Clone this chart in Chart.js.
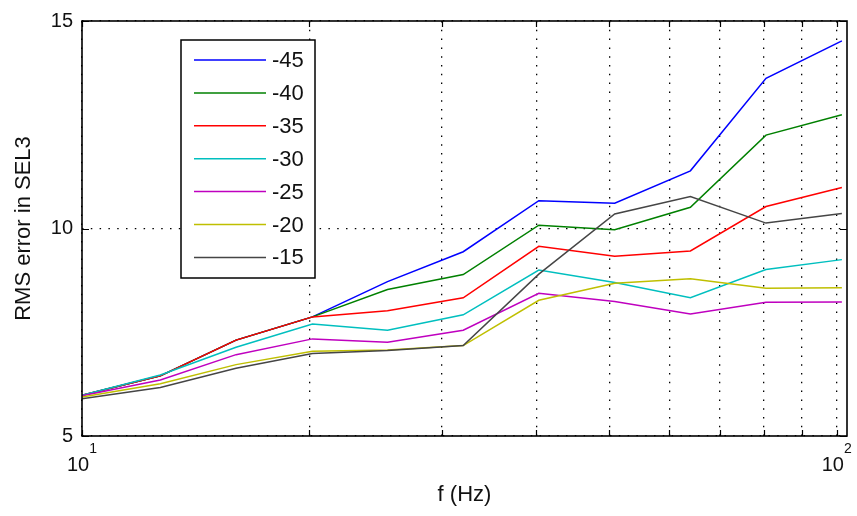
<!DOCTYPE html>
<html>
<head>
<meta charset="utf-8">
<script src="https://cdn.jsdelivr.net/npm/chart.js@4/dist/chart.umd.min.js"></script>
<style>
  html, body { margin: 0; padding: 0; background: #ffffff; }
  #wrap { width: 857px; height: 516px; }
</style>
</head>
<body>
<div id="wrap"><canvas id="c" width="857" height="516"></canvas></div>
<script>
// One-third-octave band centre frequencies (Hz)
const freqs = [10, 12.7, 16, 20.2, 25.4, 32, 40.3, 50.8, 64, 80.6, 101.6];

// RMS error per level setting
const seriesNames = ['-45', '-40', '-35', '-30', '-25', '-20', '-15'];
const rms45 = [5.98, 6.45, 7.31, 7.87, 8.72, 9.44, 10.67, 10.61, 11.39, 13.62, 14.52];
const rms40 = [5.98, 6.45, 7.31, 7.87, 8.53, 8.89, 10.08, 9.97, 10.51, 12.25, 12.74];
const rms35 = [5.98, 6.45, 7.31, 7.87, 8.02, 8.33, 9.57, 9.33, 9.46, 10.53, 10.99];
const rms30 = [5.98, 6.47, 7.14, 7.70, 7.55, 7.92, 9.00, 8.70, 8.33, 9.01, 9.25];
const rms25 = [5.97, 6.35, 6.96, 7.34, 7.26, 7.55, 8.44, 8.24, 7.94, 8.22, 8.23];
const rms20 = [5.94, 6.26, 6.72, 7.04, 7.07, 7.18, 8.27, 8.68, 8.79, 8.56, 8.57];
const rms15 = [5.90, 6.17, 6.63, 6.99, 7.06, 7.18, 8.90, 10.35, 10.77, 10.13, 10.36];
const seriesValues = [rms45, rms40, rms35, rms30, rms25, rms20, rms15];
const seriesColors = ['#0000ff', '#008000', '#ff0000', '#00bfbf', '#bf00bf', '#bfbf00', '#454545'];

// Axis ticks
const xTickValues = [10, 20, 30, 40, 50, 60, 70, 80, 90, 100];
const xLabelValues = [10, 100];
const xLabelBase = ['10', '10'];
const xLabelExp = ['1', '2'];
const yTickValues = [5, 10, 15];

const FONT = "'Liberation Sans', Arial, sans-serif";

const datasets = seriesNames.map((name, i) => ({
  label: name,
  data: freqs.map((f, j) => ({ x: f, y: seriesValues[i][j] })),
  borderColor: seriesColors[i],
  backgroundColor: seriesColors[i],
  borderWidth: 1.5,
  pointRadius: 0,
  tension: 0,
  fill: false,
  // later series are painted over earlier ones
  order: seriesNames.length - 1 - i
}));

// Box, inward tick marks, exponent tick labels and inset legend
const decorations = {
  id: 'decorations',
  afterDraw(chart) {
    const { ctx, chartArea: a, scales } = chart;
    const xs = scales.x, ys = scales.y;
    ctx.save();

    // inward tick marks
    ctx.strokeStyle = '#000';
    ctx.lineWidth = 1.2;
    ctx.setLineDash([]);
    const tl = 6;
    xTickValues.forEach(v => {
      const px = Math.round(xs.getPixelForValue(v)) + 0.5;
      ctx.beginPath();
      ctx.moveTo(px, a.bottom); ctx.lineTo(px, a.bottom - tl);
      ctx.moveTo(px, a.top); ctx.lineTo(px, a.top + tl);
      ctx.stroke();
    });
    yTickValues.forEach(v => {
      const py = Math.round(ys.getPixelForValue(v)) + 0.5;
      ctx.beginPath();
      ctx.moveTo(a.left, py); ctx.lineTo(a.left + 7, py);
      ctx.moveTo(a.right, py); ctx.lineTo(a.right - 7, py);
      ctx.stroke();
    });

    // axes box
    ctx.lineWidth = 1.6;
    ctx.strokeRect(a.left, a.top, a.right - a.left, a.bottom - a.top);

    // x tick labels written as powers of ten
    ctx.fillStyle = '#111';
    ctx.textBaseline = 'middle';
    ctx.textAlign = 'left';
    xLabelValues.forEach((v, i) => {
      const cx = xs.getPixelForValue(v);
      ctx.font = '20px ' + FONT;
      const wb = ctx.measureText(xLabelBase[i]).width;
      ctx.font = '14px ' + FONT;
      const we = ctx.measureText(xLabelExp[i]).width;
      const x0 = cx - (wb + we) / 2;
      ctx.font = '20px ' + FONT;
      ctx.fillText(xLabelBase[i], x0, a.bottom + 29);
      ctx.font = '14px ' + FONT;
      ctx.fillText(xLabelExp[i], x0 + wb, a.bottom + 13);
    });

    // inset legend
    const lx = 181, ly = 40, lw = 134, lh = 238;
    ctx.fillStyle = '#fff';
    ctx.fillRect(lx, ly, lw, lh);
    ctx.lineWidth = 1.5;
    ctx.strokeStyle = '#000';
    ctx.strokeRect(lx, ly, lw, lh);
    ctx.font = '22px ' + FONT;
    chart.data.datasets.forEach((ds, i) => {
      const y = ly + 20 + i * 32.9;
      ctx.strokeStyle = ds.borderColor;
      ctx.lineWidth = 1.5;
      ctx.beginPath();
      ctx.moveTo(194, y); ctx.lineTo(266, y);
      ctx.stroke();
      ctx.fillStyle = '#111';
      ctx.fillText(ds.label, 272, y + 1);
    });
    ctx.restore();
  }
};

new Chart(document.getElementById('c'), {
  type: 'line',
  data: { datasets },
  plugins: [decorations],
  options: {
    responsive: false,
    animation: false,
    devicePixelRatio: 1,
    layout: { padding: { left: 0, right: 10, top: 18, bottom: 0 } },
    plugins: { legend: { display: false }, tooltip: { enabled: false } },
    scales: {
      x: {
        type: 'logarithmic',
        min: 10,
        max: 103.2,
        afterBuildTicks: s => { s.ticks = xTickValues.map(v => ({ value: v })); },
        afterFit: s => { s.height = 80; },
        ticks: { display: false },
        grid: { color: '#000', lineWidth: 1.3, drawTicks: false },
        border: { display: false, dash: [1.5, 7.3] },
        title: {
          display: true,
          text: 'f (Hz)',
          color: '#111',
          font: { family: FONT, size: 22 },
          padding: { top: 0, bottom: 8 }
        }
      },
      y: {
        type: 'linear',
        min: 5,
        max: 15,
        afterBuildTicks: s => { s.ticks = yTickValues.map(v => ({ value: v })); },
        afterFit: s => { s.width = 82; },
        ticks: {
          color: '#111',
          font: { family: FONT, size: 20 },
          padding: 9
        },
        grid: { color: '#000', lineWidth: 1.3, drawTicks: false },
        border: { display: false, dash: [1.5, 7.3] },
        title: {
          display: true,
          text: 'RMS error in SEL3',
          color: '#111',
          font: { family: FONT, size: 22 },
          padding: { top: 11, bottom: 0 }
        }
      }
    }
  }
});
</script>
</body>
</html>
